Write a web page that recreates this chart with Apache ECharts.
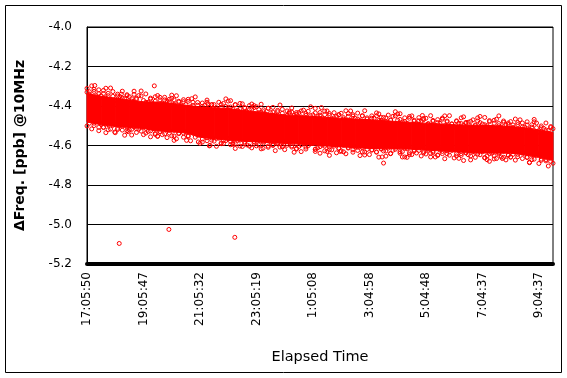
<!DOCTYPE html>
<html>
<head>
<meta charset="utf-8">
<script src="https://cdn.jsdelivr.net/npm/echarts@6/dist/echarts.min.js"></script>
<style>
  html, body { margin: 0; padding: 0; background: #fff; }
  #chart { width: 567px; height: 378px; }
</style>
</head>
<body>
<div id="chart"></div>
<script>
// x unit = one 5-minute sample slot, 24 slots between labelled ticks
const tickLabels = ['17:05:50', '19:05:47', '21:05:32', '23:05:19', '1:05:08', '3:04:58', '5:04:48', '7:04:37', '9:04:37'];
const slotsPerTick = 24;
const lastSlot = 198;

// dense core of the cloud, read every 6 slots (top / bottom edge)
const coreTop = [-4.336, -4.351, -4.360, -4.369, -4.379, -4.380, -4.386, -4.396, -4.405, -4.409, -4.413, -4.422,
  -4.429, -4.437, -4.445, -4.449, -4.452, -4.458, -4.462, -4.466, -4.470, -4.474, -4.479, -4.483, -4.487, -4.491,
  -4.495, -4.498, -4.498, -4.500, -4.504, -4.510, -4.521, -4.533];
const coreBottom = [-4.481, -4.495, -4.504, -4.509, -4.514, -4.526, -4.531, -4.536, -4.558, -4.566, -4.573, -4.578,
  -4.582, -4.586, -4.590, -4.593, -4.597, -4.603, -4.607, -4.611, -4.615, -4.616, -4.616, -4.619, -4.623, -4.627,
  -4.632, -4.635, -4.638, -4.639, -4.639, -4.647, -4.660, -4.675];

// ragged points along the upper and lower edge, one per slot
const edgeHigh = [
  -4.311, -4.341, -4.298, -4.326, -4.348, -4.318, -4.348, -4.321, -4.359, -4.336, -4.309, -4.351,
  -4.370, -4.340, -4.352, -4.325, -4.363, -4.348, -4.353, -4.375, -4.341, -4.367, -4.347, -4.324,
  -4.372, -4.339, -4.381, -4.360, -4.388, -4.353, -4.347, -4.369, -4.387, -4.356, -4.375, -4.366,
  -4.361, -4.391, -4.348, -4.376, -4.398, -4.368, -4.393, -4.366, -4.404, -4.381, -4.354, -4.396,
  -4.415, -4.385, -4.397, -4.370, -4.408, -4.393, -4.393, -4.415, -4.381, -4.407, -4.387, -4.364,
  -4.406, -4.373, -4.415, -4.394, -4.422, -4.387, -4.389, -4.411, -4.429, -4.398, -4.417, -4.408,
  -4.404, -4.434, -4.391, -4.419, -4.441, -4.411, -4.434, -4.407, -4.445, -4.422, -4.395, -4.437,
  -4.455, -4.425, -4.437, -4.410, -4.448, -4.433, -4.433, -4.455, -4.421, -4.447, -4.427, -4.404,
  -4.445, -4.412, -4.454, -4.433, -4.461, -4.426, -4.425, -4.447, -4.465, -4.434, -4.453, -4.444,
  -4.437, -4.467, -4.424, -4.452, -4.474, -4.444, -4.463, -4.436, -4.474, -4.451, -4.424, -4.466,
  -4.480, -4.450, -4.462, -4.435, -4.473, -4.458, -4.458, -4.480, -4.446, -4.472, -4.452, -4.429,
  -4.472, -4.439, -4.481, -4.460, -4.488, -4.453, -4.450, -4.472, -4.490, -4.459, -4.478, -4.469,
  -4.462, -4.492, -4.449, -4.477, -4.499, -4.469, -4.488, -4.461, -4.499, -4.476, -4.449, -4.491,
  -4.505, -4.475, -4.487, -4.460, -4.498, -4.483, -4.482, -4.504, -4.470, -4.496, -4.476, -4.453,
  -4.491, -4.458, -4.500, -4.479, -4.507, -4.472, -4.467, -4.489, -4.507, -4.476, -4.495, -4.486,
  -4.479, -4.509, -4.466, -4.494, -4.516, -4.486, -4.507, -4.480, -4.518, -4.495, -4.468, -4.510,
  -4.531, -4.501, -4.513, -4.486, -4.524, -4.509, -4.515];
const edgeLow = [
  -4.501, -4.473, -4.516, -4.487, -4.469, -4.508, -4.491, -4.509, -4.535, -4.495, -4.517, -4.485,
  -4.535, -4.513, -4.498, -4.522, -4.548, -4.507, -4.521, -4.547, -4.506, -4.534, -4.517, -4.500,
  -4.507, -4.537, -4.529, -4.556, -4.515, -4.544, -4.553, -4.530, -4.545, -4.515, -4.560, -4.537,
  -4.551, -4.523, -4.566, -4.537, -4.519, -4.558, -4.532, -4.550, -4.576, -4.536, -4.558, -4.526,
  -4.589, -4.567, -4.552, -4.576, -4.602, -4.561, -4.578, -4.604, -4.563, -4.591, -4.574, -4.557,
  -4.566, -4.596, -4.588, -4.615, -4.574, -4.603, -4.605, -4.582, -4.597, -4.567, -4.612, -4.589,
  -4.602, -4.574, -4.617, -4.588, -4.570, -4.609, -4.582, -4.600, -4.626, -4.586, -4.608, -4.576,
  -4.621, -4.599, -4.584, -4.608, -4.634, -4.593, -4.605, -4.631, -4.590, -4.618, -4.601, -4.584,
  -4.590, -4.620, -4.612, -4.639, -4.598, -4.627, -4.630, -4.607, -4.622, -4.592, -4.637, -4.614,
  -4.627, -4.599, -4.642, -4.613, -4.595, -4.634, -4.607, -4.625, -4.651, -4.611, -4.633, -4.601,
  -4.646, -4.624, -4.609, -4.633, -4.659, -4.618, -4.628, -4.654, -4.613, -4.641, -4.624, -4.607,
  -4.609, -4.639, -4.631, -4.658, -4.617, -4.646, -4.646, -4.623, -4.638, -4.608, -4.653, -4.630,
  -4.643, -4.615, -4.658, -4.629, -4.611, -4.650, -4.623, -4.641, -4.667, -4.627, -4.649, -4.617,
  -4.663, -4.641, -4.626, -4.650, -4.676, -4.635, -4.647, -4.673, -4.632, -4.660, -4.643, -4.626,
  -4.631, -4.661, -4.653, -4.680, -4.639, -4.668, -4.666, -4.643, -4.658, -4.628, -4.673, -4.650,
  -4.659, -4.631, -4.674, -4.645, -4.627, -4.666, -4.643, -4.661, -4.687, -4.647, -4.669, -4.637,
  -4.691, -4.669, -4.654, -4.678, -4.704, -4.663, -4.690];

// second, closer layer of edge points on the odd slots 1, 3, 5 ... 197
const edgeHigh2 = [
  -4.328, -4.316, -4.338, -4.337, -4.348, -4.327, -4.349, -4.360, -4.343, -4.363,
  -4.361, -4.349, -4.381, -4.365, -4.376, -4.356, -4.369, -4.380, -4.369, -4.380,
  -4.378, -4.376, -4.398, -4.382, -4.402, -4.381, -4.394, -4.409, -4.392, -4.403,
  -4.405, -4.393, -4.415, -4.408, -4.419, -4.398, -4.418, -4.429, -4.412, -4.431,
  -4.429, -4.417, -4.447, -4.431, -4.442, -4.425, -4.438, -4.449, -4.435, -4.446,
  -4.444, -4.438, -4.460, -4.444, -4.459, -4.438, -4.451, -4.466, -4.449, -4.460,
  -4.462, -4.450, -4.472, -4.460, -4.471, -4.450, -4.468, -4.479, -4.462, -4.477,
  -4.475, -4.463, -4.489, -4.473, -4.484, -4.467, -4.480, -4.491, -4.478, -4.489,
  -4.487, -4.478, -4.500, -4.484, -4.495, -4.474, -4.487, -4.500, -4.483, -4.494,
  -4.496, -4.484, -4.506, -4.496, -4.507, -4.486, -4.510, -4.521, -4.504];
const edgeLow2 = [
  -4.487, -4.499, -4.481, -4.507, -4.520, -4.498, -4.519, -4.502, -4.525, -4.518,
  -4.515, -4.527, -4.514, -4.526, -4.539, -4.529, -4.541, -4.524, -4.552, -4.540,
  -4.537, -4.554, -4.536, -4.548, -4.583, -4.561, -4.573, -4.564, -4.587, -4.575,
  -4.579, -4.591, -4.573, -4.590, -4.603, -4.581, -4.597, -4.580, -4.603, -4.595,
  -4.592, -4.604, -4.590, -4.602, -4.615, -4.596, -4.608, -4.591, -4.618, -4.606,
  -4.603, -4.621, -4.603, -4.615, -4.632, -4.610, -4.622, -4.609, -4.632, -4.620,
  -4.621, -4.633, -4.615, -4.628, -4.641, -4.619, -4.631, -4.614, -4.637, -4.628,
  -4.625, -4.637, -4.623, -4.635, -4.648, -4.630, -4.642, -4.625, -4.653, -4.641,
  -4.638, -4.653, -4.635, -4.647, -4.663, -4.641, -4.653, -4.637, -4.660, -4.648,
  -4.645, -4.657, -4.639, -4.659, -4.672, -4.650, -4.675, -4.658, -4.681];

// loose points outside the dense band: [slot, value]
const strayPoints = [
  [0, -4.33], [3.3, -4.296], [8, -4.31], [14.6, -4.34], [20, -4.325], [28.6, -4.298], [36, -4.345],
  [44.5, -4.363], [51.4, -4.39], [60, -4.375], [70, -4.39], [86, -4.43], [99.6, -4.408], [112, -4.425],
  [124, -4.44], [132, -4.44], [142.5, -4.448], [152, -4.45], [160, -4.455], [166, -4.46], [175, -4.45],
  [184, -4.47], [190, -4.48],
  [5, -4.525], [11.8, -4.532], [17.5, -4.53], [24, -4.545], [30, -4.553], [37, -4.574], [42.3, -4.574],
  [47.3, -4.582], [52.3, -4.599], [58, -4.59], [62, -4.594], [74.8, -4.614], [83, -4.607], [89, -4.618],
  [97, -4.63], [103, -4.65], [107.6, -4.63], [118, -4.648], [125.4, -4.658], [126, -4.689], [134, -4.658],
  [136, -4.66], [146, -4.64], [148, -4.658], [158, -4.665], [170, -4.672], [176.5, -4.666], [180, -4.658],
  [188, -4.685], [195, -4.671],
  [13.7, -5.096], [34.8, -5.025], [62.8, -5.065]
];

const chart = echarts.init(document.getElementById('chart'));

// band segments between consecutive core readings
const coreStep = lastSlot / (coreTop.length - 1);
const bandData = [];
for (let i = 0; i < coreTop.length - 1; i++) {
  bandData.push([i * coreStep, coreTop[i], coreBottom[i], (i + 1) * coreStep, coreTop[i + 1], coreBottom[i + 1]]);
}

const scatterData = [];
edgeHigh.forEach((v, i) => scatterData.push([i, v]));
edgeLow.forEach((v, i) => scatterData.push([i, v]));
edgeHigh2.forEach((v, i) => scatterData.push([2 * i + 1, v]));
edgeLow2.forEach((v, i) => scatterData.push([2 * i + 1, v]));
strayPoints.forEach(p => scatterData.push(p));

const font = 'DejaVu Sans';

const option = {
  animation: false,
  backgroundColor: '#fff',
  graphic: [{
    type: 'rect',
    shape: { x: 5.5, y: 5.5, width: 556, height: 367 },
    style: { fill: 'none', stroke: '#000', lineWidth: 1 }
  }],
  grid: {
    left: 87, right: 14, top: 27, bottom: 114,
    show: true, borderColor: '#000', borderWidth: 1
  },
  xAxis: {
    type: 'value',
    min: 0,
    max: lastSlot,
    interval: slotsPerTick,
    name: 'Elapsed Time',
    nameLocation: 'middle',
    nameGap: 86,
    nameTextStyle: { fontFamily: font, fontSize: 14.5, color: '#000' },
    axisLine: { onZero: false, lineStyle: { color: '#000', width: 4 } },
    axisTick: { show: false },
    splitLine: { show: false },
    axisLabel: {
      rotate: 90,
      margin: 8,
      fontFamily: font,
      fontSize: 12,
      color: '#000',
      showMaxLabel: false,
      formatter: v => (v % slotsPerTick === 0 ? (tickLabels[v / slotsPerTick] || '') : '')
    }
  },
  yAxis: {
    type: 'value',
    min: -5.2,
    max: -4.0,
    interval: 0.2,
    name: 'ΔFreq. [ppb] @10MHz',
    nameLocation: 'middle',
    nameGap: 60,
    nameTextStyle: { fontFamily: font, fontSize: 14, fontWeight: 'bold', color: '#000' },
    axisLine: { show: true, lineStyle: { color: '#000', width: 1 } },
    axisTick: { show: false },
    splitLine: { lineStyle: { color: '#000', width: 1 } },
    axisLabel: {
      margin: 15,
      fontFamily: font,
      fontSize: 12,
      color: '#000',
      formatter: v => v.toFixed(1)
    }
  },
  series: [
    {
      type: 'custom',
      data: bandData,
      encode: { x: [0, 3], y: [1, 2, 4, 5] },
      z: 2,
      renderItem: (params, api) => {
        const a = api.coord([api.value(0), api.value(1)]);
        const b = api.coord([api.value(3), api.value(4)]);
        const c = api.coord([api.value(3), api.value(5)]);
        const d = api.coord([api.value(0), api.value(2)]);
        return {
          type: 'polygon',
          shape: { points: [a, b, c, d] },
          style: { fill: '#ff0000', stroke: '#ff0000', lineWidth: 1 }
        };
      }
    },
    {
      type: 'scatter',
      data: scatterData,
      symbol: 'circle',
      symbolSize: 4,
      z: 3,
      itemStyle: { color: 'rgba(255,255,255,0)', borderColor: '#ff0000', borderWidth: 1, opacity: 1 }
    }
  ]
};

chart.setOption(option);
</script>
</body>
</html>
